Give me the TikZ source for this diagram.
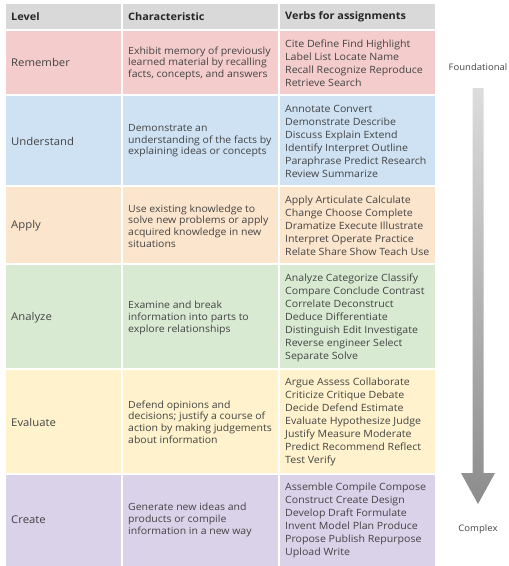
\documentclass[tikz,border=0pt]{standalone}
\usepackage{fontspec}
\setmainfont{Open Sans}[FakeStretch=1.06]
\definecolor{hdrgray}{HTML}{D9D9D9}
\definecolor{rowpink}{HTML}{F4CCCC}
\definecolor{rowblue}{HTML}{CFE2F3}
\definecolor{rowpeach}{HTML}{FCE5CD}
\definecolor{rowgreen}{HTML}{D9EAD3}
\definecolor{rowyellow}{HTML}{FFF2CC}
\definecolor{rowpurple}{HTML}{D9D2E9}
\definecolor{txtgray}{HTML}{434343}
\definecolor{arrowtop}{HTML}{DCDCDC}
\definecolor{arrowbot}{HTML}{8C8C8C}
\tikzset{
  hdr/.style={anchor=west, text=black!85, font=\fontsize{10.3}{12}\selectfont\bfseries, inner sep=0pt},
  lvl/.style={anchor=west, text=txtgray, font=\fontsize{10.7}{12}\selectfont, inner sep=0pt},
  chr/.style={anchor=west, align=left, text=txtgray, font=\fontsize{9.9}{11.6}\selectfont, inner sep=0pt},
  vrb/.style={anchor=west, align=left, text=txtgray, font=\fontsize{10}{13}\selectfont, inner sep=0pt},
  endlabel/.style={text=txtgray, font=\fontsize{9}{11}\selectfont, inner sep=0pt}
}

\begin{document}
\begin{tikzpicture}[x=1pt, y=-1pt]
			%%%%% START %%%%%
			\useasboundingbox (0,0) rectangle (509,566);
			
			% rows
			\fill[hdrgray] (6,4) rectangle (435,30);
			\fill[rowpink] (6,30) rectangle (435,95);
			\fill[rowblue] (6,95) rectangle (435,186);
			\fill[rowpeach] (6,186) rectangle (435,264);
			\fill[rowgreen] (6,264) rectangle (435,369);
			\fill[rowyellow] (6,369) rectangle (435,474);
			\fill[rowpurple] (6,474) rectangle (435,566);
			
			% grid
			\draw[white, line width=1.6pt] (122,4) -- (122,566);
			\draw[white, line width=1.6pt] (279,4) -- (279,566);
			\foreach \y in {30,95,186,264,369,474}
				\draw[white, line width=1.6pt] (6,\y) -- (435,\y);
			
			% header
			\node[hdr] (hlevel) at (11,17) {Level};
			\node[hdr] (hchar) at (128,17) {Characteristic};
			\node[hdr] (hverb) at (285,17) {Verbs for assignments};
			
			% remember
			\node[lvl] (remember) at (11,62.5) {Remember};
			\node[chr] (rememberc) at (128,63) {Exhibit memory of previously\\learned material by recalling\\facts, concepts, and answers};
			\node[vrb] (rememberv) at (285,63) {Cite Define Find Highlight\\Label List Locate Name\\Recall Recognize Reproduce\\Retrieve Search};
			
			% understand
			\node[lvl] (understand) at (11,141) {Understand};
			\node[chr] (understandc) at (128,141) {Demonstrate an\\understanding of the facts by\\explaining ideas or concepts};
			\node[vrb] (understandv) at (285,141) {Annotate Convert\\Demonstrate Describe\\Discuss Explain Extend\\Identify Interpret Outline\\Paraphrase Predict Research\\Review Summarize};
			
			% apply
			\node[lvl] (apply) at (11,226) {Apply};
			\node[chr] (applyc) at (128,226) {Use existing knowledge to\\solve new problems or apply\\acquired knowledge in new\\situations};
			\node[vrb] (applyv) at (285,226) {Apply Articulate Calculate\\Change Choose Complete\\Dramatize Execute Illustrate\\Interpret Operate Practice\\Relate Share Show Teach Use};
			
			% analyze
			\node[lvl] (analyze) at (11,318) {Analyze};
			\node[chr] (analyzec) at (128,318) {Examine and break\\information into parts to\\explore relationships};
			\node[vrb] (analyzev) at (285,318) {Analyze Categorize Classify\\Compare Conclude Contrast\\Correlate Deconstruct\\Deduce Differentiate\\Distinguish Edit Investigate\\Reverse engineer Select\\Separate Solve};
			
			% evaluate
			\node[lvl] (evaluate) at (11,422) {Evaluate};
			\node[chr] (evaluatec) at (128,422) {Defend opinions and\\decisions; justify a course of\\action by making judgements\\about information};
			\node[vrb] (evaluatev) at (285,422) {Argue Assess Collaborate\\Criticize Critique Debate\\Decide Defend Estimate\\Evaluate Hypothesize Judge\\Justify Measure Moderate\\Predict Recommend Reflect\\Test Verify};
			
			% create
			\node[lvl] (create) at (11,520) {Create};
			\node[chr] (createc) at (128,520) {Generate new ideas and\\products or compile\\information in a new way};
			\node[vrb] (createv) at (285,520) {Assemble Compile Compose\\Construct Create Design\\Develop Draft Formulate\\Invent Model Plan Produce\\Propose Publish Repurpose\\Upload Write};
			
			% scale arrow
			\node[endlabel] (found) at (478,67) {Foundational};
			\shade[top color=arrowtop, bottom color=arrowbot] (472.5,88) -- (483.5,88) -- (483.5,473) -- (495,473) -- (478,504) -- (461,473) -- (472.5,473) -- cycle;
			\node[endlabel] (complex) at (478,529) {Complex};
			
			%%%%% END %%%%%
\end{tikzpicture}
\end{document}
